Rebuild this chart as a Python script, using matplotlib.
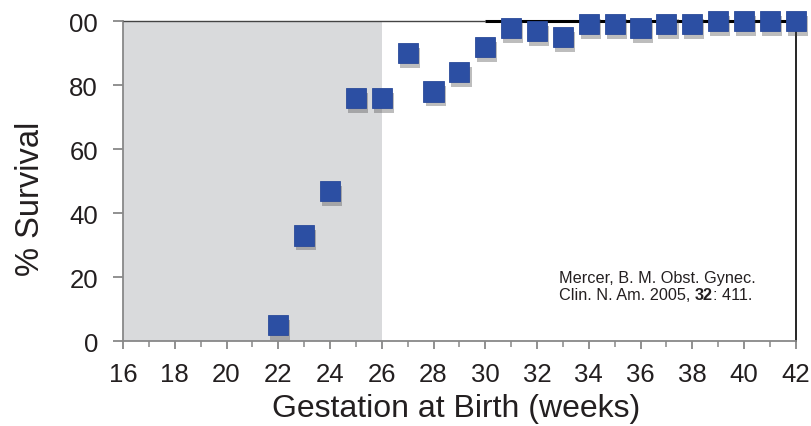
import matplotlib
matplotlib.use("Agg")
import matplotlib.pyplot as plt
import matplotlib.patheffects as pe
from matplotlib.ticker import MultipleLocator

plt.rcParams['font.family'] = ['Liberation Sans', 'DejaVu Sans']

weeks = [22, 23, 24, 25, 26, 27, 28, 29, 30, 31, 32, 33, 34, 35, 36, 37, 38, 39, 40, 41, 42]
survival = [5, 33, 47, 76, 76, 90, 78, 84, 92, 98, 97, 95, 99, 99, 98, 99, 99, 100, 100, 100, 100]
yticks = [0, 20, 40, 60, 80, 100]
ytick_labels = ["0", "20", "40", "60", "80", "00"]
xticks = list(range(16, 43, 2))

fig = plt.figure(figsize=(8.12, 4.27), dpi=100)
ax = fig.add_axes([0.1515, 0.199, 0.8285, 0.749])
ax.set_xlim(16, 42)
ax.set_ylim(0, 100)

ax.axvspan(16, 26, color='#d9dadc', zorder=0, lw=0)

ax.plot(weeks, survival, ls='none', marker='s', markersize=14.5,
        markerfacecolor='#2c4fa3', markeredgecolor='#2a4a9a', markeredgewidth=0.6,
        zorder=5, clip_on=False,
        path_effects=[pe.SimplePatchShadow(offset=(1.5, -3.5), shadow_rgbFace='#444444', alpha=0.35),
                      pe.Normal()])

ax.spines['top'].set_visible(False)
ax.hlines(100, 16, 30, color='#444444', lw=1.0, zorder=3, clip_on=False)
ax.hlines(100, 30, 42, color='black', lw=2.2, zorder=3, clip_on=False)
ax.spines['left'].set_color('#888888')
ax.spines['left'].set_linewidth(1.3)
ax.spines['bottom'].set_color('#888888')
ax.spines['bottom'].set_linewidth(1.3)
ax.spines['right'].set_color('black')
ax.spines['right'].set_linewidth(1.2)

ax.set_xticks(xticks)
ax.set_xticklabels([str(x) for x in xticks])
ax.xaxis.set_minor_locator(MultipleLocator(1))
ax.set_yticks(yticks)
ax.set_yticklabels(ytick_labels)
ax.tick_params(axis='both', which='major', direction='out', color='#888888',
               length=6, width=1.3, labelsize=18.5, pad=9)
ax.tick_params(axis='x', which='minor', direction='out', color='#888888',
               length=4, width=1.1)
ax.tick_params(axis='y', which='major', pad=11, length=7)

ax.set_xlabel('Gestation at Birth (weeks)', fontsize=23, color='#231f20')
ax.set_ylabel('% Survival', fontsize=23.5, color='#231f20')
ax.xaxis.set_label_coords(0.495, -0.163)
ax.yaxis.set_label_coords(-0.114, 0.447)
for lbl in ax.get_xticklabels() + ax.get_yticklabels():
    lbl.set_color('#231f20')

ax.text(0.648, 0.183, 'Mercer, B. M. Obst. Gynec.', transform=ax.transAxes,
        ha='left', va='baseline', fontsize=11.7, color='#231f20')
t2 = ax.text(0.648, 0.131, 'Clin. N. Am. 2005, ', transform=ax.transAxes,
             ha='left', va='baseline', fontsize=11.7, color='#231f20')
t3 = ax.annotate('32', xy=(1, 0), xycoords=t2, ha='left', va='bottom',
                 fontsize=11.7, fontweight='bold', color='#231f20')
ax.annotate(': 411.', xy=(1, 0), xycoords=t3, ha='left', va='bottom',
            fontsize=11.7, color='#231f20')

fig.savefig('out.png', dpi=100)
